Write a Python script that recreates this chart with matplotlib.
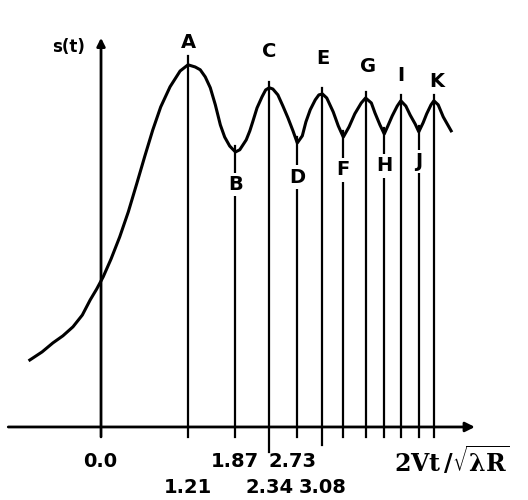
import numpy as np
import matplotlib
matplotlib.use("Agg")
import matplotlib.pyplot as plt

# curve s(t) (x in 2Vt/sqrt(lambda R), y in amplitude)
curve_x = [-0.99, -0.82, -0.67, -0.53, -0.39, -0.26, -0.15, -0.06, 0.03, 0.14,
           0.26, 0.38, 0.50, 0.61, 0.72, 0.83, 0.96, 1.10, 1.21, 1.31,
           1.38, 1.45, 1.52, 1.59, 1.66, 1.72, 1.79, 1.84, 1.87, 1.93,
           2.02, 2.07, 2.11, 2.17, 2.24, 2.29, 2.34, 2.39, 2.46, 2.53,
           2.60, 2.67, 2.73, 2.80, 2.85, 2.91, 2.98, 3.03, 3.08, 3.14,
           3.23, 3.30, 3.37, 3.45, 3.53, 3.62, 3.68, 3.76, 3.81, 3.88,
           3.94, 3.99, 4.05, 4.12, 4.17, 4.24, 4.30, 4.37, 4.42, 4.48,
           4.53, 4.59, 4.63, 4.69, 4.76, 4.87]
curve_y = [0.216, 0.242, 0.271, 0.294, 0.323, 0.361, 0.410, 0.445, 0.484, 0.542,
           0.613, 0.694, 0.787, 0.874, 0.958, 1.032, 1.097, 1.148, 1.168, 1.161,
           1.152, 1.129, 1.094, 1.039, 0.974, 0.935, 0.906, 0.894, 0.887, 0.894,
           0.926, 0.955, 0.984, 1.029, 1.065, 1.087, 1.094, 1.090, 1.071, 1.035,
           0.997, 0.955, 0.916, 0.939, 0.984, 1.023, 1.055, 1.071, 1.074, 1.061,
           1.016, 0.971, 0.935, 0.968, 1.010, 1.045, 1.061, 1.045, 1.013, 0.974,
           0.945, 0.971, 1.003, 1.035, 1.052, 1.035, 1.006, 0.977, 0.952, 0.981,
           1.010, 1.039, 1.052, 1.039, 1.000, 0.955]

# extrema
ext_names = ["A", "B", "C", "D", "E", "F", "G", "H", "I", "J", "K"]
ext_x = [1.21, 1.87, 2.34, 2.73, 3.08, 3.37, 3.68, 3.94, 4.17, 4.42, 4.63]
ext_y = [1.168, 0.887, 1.094, 0.916, 1.074, 0.935, 1.061, 0.945, 1.052, 0.952, 1.052]

ticks_row1 = [(0.0, "0.0"), (1.87, "1.87"), (2.73, "2.73")]
ticks_row2 = [(1.21, "1.21"), (2.34, "2.34"), (3.08, "3.08")]

fig = plt.figure(figsize=(5.28, 5.0), dpi=100)
ax = fig.add_axes([0, 0, 1, 1])
ax.set_xlim(-1.405, 5.939)
ax.set_ylim(-0.2355, 1.377)
ax.axis("off")

# axes with arrows
ax.annotate("", xy=(5.2, 0), xytext=(-1.29, 0),
            arrowprops=dict(arrowstyle="-|>", lw=2, color="k", mutation_scale=14,
                            shrinkA=0, shrinkB=0))
ax.annotate("", xy=(0, 1.255), xytext=(0, -0.032),
            arrowprops=dict(arrowstyle="-|>", lw=2, color="k", mutation_scale=12,
                            shrinkA=0, shrinkB=0))

ax.plot(curve_x, curve_y, color="k", lw=2.2)

lab_y = {"A": 1.239, "B": 0.781, "C": 1.210, "D": 0.806, "E": 1.187, "F": 0.829,
         "G": 1.161, "H": 0.842, "I": 1.132, "J": 0.855, "K": 1.113}
lab_dx = {"G": 0.03, "K": 0.04}
for name, x, y in zip(ext_names, ext_x, ext_y):
    top = y + (0.03 if name == "A" else 0.02)
    bottom = -0.032
    if name == "C":
        bottom = -0.081
    elif name == "E":
        bottom = -0.058
    ax.plot([x, x], [bottom, top], color="k", lw=1.6)
    ax.text(x + lab_dx.get(name, 0), lab_y[name], name, ha="center", va="center",
            fontsize=14, fontweight="bold",
            bbox=dict(facecolor="white", edgecolor="none", pad=1.5))

ax.text(-0.45, 1.225, "s(t)", ha="center", va="center", fontsize=12, fontweight="bold")

for x, s in ticks_row1:
    dx = -0.07 if s == "2.73" else -0.01
    ax.text(x + dx, -0.110, s, ha="center", va="center", fontsize=14, fontweight="bold")
for x, s in ticks_row2:
    ax.text(x, -0.194, s, ha="center", va="center", fontsize=14, fontweight="bold")

plt.rcParams["mathtext.fontset"] = "dejavuserif"
ax.text(4.88, -0.108, r"$\mathbf{2Vt\,/}\sqrt{\mathbf{\lambda R}}$", ha="center",
        va="center", fontsize=17)

fig.savefig("out.png", dpi=100)
